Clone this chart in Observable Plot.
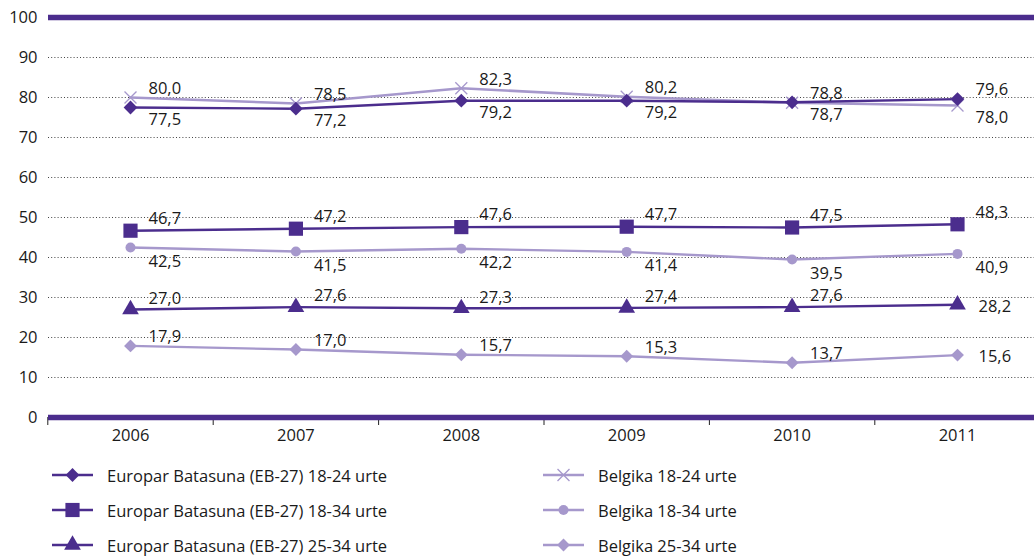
<!DOCTYPE html>
<html>
<head>
<meta charset="utf-8">
<script src="https://cdn.jsdelivr.net/npm/d3@7"></script>
<script src="https://cdn.jsdelivr.net/npm/@observablehq/plot@0.6"></script>
<style>
  html, body { margin: 0; padding: 0; background: #fff; }
  body { width: 1034px; height: 556px; overflow: hidden; font-family: "Open Sans", sans-serif; color: #1a1a1a; }
  #legend { position: relative; width: 1034px; height: 96px; }
  .item { position: absolute; display: flex; align-items: center; font-size: 16.5px; height: 24px; }
  .item svg { margin-right: 14px; }
</style>
</head>
<body>
<div id="chart"></div>
<div id="legend"></div>
<script>
// ---- data ----
const years = [2006, 2007, 2008, 2009, 2010, 2011];
const seriesNames = [
  "Europar Batasuna (EB-27) 18-24 urte",
  "Europar Batasuna (EB-27) 18-34 urte",
  "Europar Batasuna (EB-27) 25-34 urte",
  "Belgika 18-24 urte",
  "Belgika 18-34 urte",
  "Belgika 25-34 urte"
];
const eu1824 = [77.5, 77.2, 79.2, 79.2, 78.8, 79.6];
const eu1834 = [46.7, 47.2, 47.6, 47.7, 47.5, 48.3];
const eu2534 = [27.0, 27.6, 27.3, 27.4, 27.6, 28.2];
const be1824 = [80.0, 78.5, 82.3, 80.2, 78.7, 78.0];
const be1834 = [42.5, 41.5, 42.2, 41.4, 39.5, 40.9];
const be2534 = [17.9, 17.0, 15.7, 15.3, 13.7, 15.6];
const yTicks = [0, 10, 20, 30, 40, 50, 60, 70, 80, 90, 100];

// ---- styling ----
const DARK = "#4b2d8d";
const LIGHT = "#a698cc";
const FS = 16.5;
const styles = [
  {color: DARK, symbol: "diamond2", r: 6.2, labelDy: 12},
  {color: DARK, symbol: "square", r: 8.0, labelDy: -12},
  {color: DARK, symbol: "triangle", r: 6.2, labelDy: -11},
  {color: LIGHT, symbol: "times", r: 5.5, labelDy: -9},
  {color: LIGHT, symbol: "circle", r: 5.0, labelDy: 14},
  {color: LIGHT, symbol: "diamond2", r: 5.8, labelDy: -9}
];
const allValues = [eu1824, eu1834, eu2534, be1824, be1834, be2534];

const rows = [];
allValues.forEach((vals, s) => {
  vals.forEach((v, i) => rows.push({series: seriesNames[s], s, year: years[i], i, value: v}));
});

// label placement
function labelOffset(d) {
  // 18-24 pair: higher value labelled above, lower below
  if (d.s === 0 || d.s === 3) {
    const other = d.s === 0 ? be1824[d.i] : eu1824[d.i];
    return d.value >= other ? {dx: 18, dy: -9} : {dx: 18, dy: 12};
  }
  if ((d.s === 2 || d.s === 5) && d.i === years.length - 1) return {dx: 21, dy: 2};
  return {dx: 18, dy: styles[d.s].labelDy};
}
const labelRows = rows.map(d => ({...d, ...labelOffset(d)}));
const fmt = v => v.toFixed(1).replace(".", ",");
const boundaries = years.map(y => y - 0.5);

const marks = [
  Plot.ruleY(yTicks.filter(t => t > 0 && t < 100), {stroke: "#444", strokeDasharray: "1,2.2", strokeWidth: 1}),
  Plot.axisY({ticks: yTicks, tickSize: 0, tickPadding: 11, fontSize: FS, label: null, tickFormat: d => String(d)}),
  Plot.axisX({ticks: boundaries, tickSize: 8, tickFormat: () => "", label: null, stroke: "#222"}),
  Plot.axisX({ticks: years, tickSize: 0, tickPadding: 12, fontSize: FS, label: null, tickFormat: d => String(d)}),
  Plot.ruleY([0, 100], {stroke: DARK, strokeWidth: 5.5})
];
// draw light series first, then dark
const order = [5, 4, 3, 2, 1, 0];
for (const s of order) {
  const st = styles[s];
  const data = rows.filter(d => d.s === s);
  marks.push(Plot.line(data, {x: "year", y: "value", stroke: st.color, strokeWidth: s === 3 ? 2.6 : 2.4}));
}
for (const s of order) {
  const st = styles[s];
  const data = rows.filter(d => d.s === s);
  if (st.symbol === "times") {
    marks.push(Plot.dot(data, {x: "year", y: "value", symbol: "times", r: st.r, stroke: st.color, strokeWidth: 1.3}));
  } else {
    marks.push(Plot.dot(data, {x: "year", y: "value", symbol: st.symbol, r: st.r, fill: st.color, stroke: "none"}));
  }
}
// labels, one text mark per offset combination
const groups = d3.groups(labelRows, d => d.dx + "|" + d.dy);
for (const [, g] of groups) {
  marks.push(Plot.text(g, {x: "year", y: "value", text: d => fmt(d.value), dx: g[0].dx, dy: g[0].dy, textAnchor: "start", fontSize: FS, fill: "#1a1a1a"}));
}

const chart = Plot.plot({
  width: 1034,
  height: 460,
  marginLeft: 48,
  marginRight: 0,
  marginTop: 17,
  marginBottom: 43,
  style: {fontFamily: "Open Sans, sans-serif", fontSize: FS + "px", color: "#1a1a1a", background: "#fff"},
  x: {type: "linear", domain: [2005.5, 2011.5], range: [47.3, 1039.7]},
  y: {domain: [0, 100], range: [417, 17]},
  marks
});
document.getElementById("chart").appendChild(chart);

// ---- legend ----
const legend = document.getElementById("legend");
const symbolPath = (name, r) => {
  const map = {diamond2: d3.symbolDiamond2, square: d3.symbolSquare, triangle: d3.symbolTriangle, circle: d3.symbolCircle, times: d3.symbolTimes};
  return d3.symbol(map[name], Math.PI * r * r)();
};
seriesNames.forEach((name, s) => {
  const st = styles[s];
  const col = s < 3 ? 0 : 1;
  const row = s % 3;
  const div = document.createElement("div");
  div.className = "item";
  div.style.left = (col === 0 ? 52 : 543) + "px";
  div.style.top = (15 + row * 35 - 12) + "px";
  const sym = symbolPath(st.symbol, st.r);
  const symAttrs = st.symbol === "times"
    ? `fill="none" stroke="${st.color}" stroke-width="1.3"`
    : `fill="${st.color}"`;
  div.innerHTML = `<svg width="41" height="24"><line x1="0" x2="41" y1="12" y2="12" stroke="${st.color}" stroke-width="2.6"/><path transform="translate(20.5,12)" d="${sym}" ${symAttrs}/></svg><span>${name}</span>`;
  legend.appendChild(div);
});
</script>
</body>
</html>
